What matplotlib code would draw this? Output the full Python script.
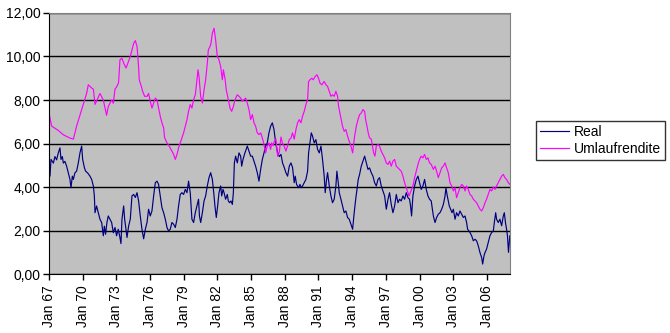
import numpy as np
import matplotlib.pyplot as plt

plt.rcParams['font.family'] = ['Liberation Sans', 'DejaVu Sans']

# readings taken off the chart (decimal year, percent)
real_year = [1967.00, 1967.09, 1967.18, 1967.39, 1967.53, 1967.68, 1967.83, 1967.98, 1968.07, 1968.19,
             1968.28, 1968.42, 1968.57, 1968.72, 1968.87, 1968.96, 1969.08, 1969.17, 1969.31, 1969.46,
             1969.61, 1969.76, 1969.91, 1970.00, 1970.15, 1970.26, 1970.44, 1970.65, 1970.80, 1970.95,
             1971.04, 1971.10, 1971.24, 1971.39, 1971.54, 1971.69, 1971.84, 1971.93, 1972.04, 1972.16,
             1972.28, 1972.43, 1972.58, 1972.73, 1972.88, 1973.02, 1973.17, 1973.32, 1973.41, 1973.50,
             1973.65, 1973.74, 1973.86, 1973.95, 1974.09, 1974.24, 1974.39, 1974.54, 1974.69, 1974.84,
             1974.98, 1975.13, 1975.28, 1975.43, 1975.58, 1975.73, 1975.87, 1976.02, 1976.17, 1976.32,
             1976.47, 1976.62, 1976.76, 1976.91, 1977.06, 1977.21, 1977.36, 1977.51, 1977.65, 1977.80,
             1977.95, 1978.10, 1978.25, 1978.40, 1978.54, 1978.69, 1978.84, 1978.99, 1979.14, 1979.29,
             1979.43, 1979.58, 1979.73, 1979.88, 1980.03, 1980.18, 1980.32, 1980.40, 1980.51, 1980.66,
             1980.81, 1980.95, 1981.10, 1981.25, 1981.40, 1981.55, 1981.70, 1981.78, 1981.90, 1982.02,
             1982.14, 1982.29, 1982.38, 1982.50, 1982.59, 1982.73, 1982.88, 1982.97, 1983.09, 1983.21,
             1983.33, 1983.42, 1983.51, 1983.62, 1983.77, 1983.92, 1984.07, 1984.16, 1984.28, 1984.45,
             1984.66, 1984.81, 1984.96, 1985.11, 1985.26, 1985.40, 1985.55, 1985.70, 1985.85, 1986.00,
             1986.15, 1986.29, 1986.44, 1986.59, 1986.74, 1986.89, 1987.04, 1987.13, 1987.24, 1987.36,
             1987.51, 1987.66, 1987.80, 1987.95, 1988.10, 1988.25, 1988.40, 1988.55, 1988.69, 1988.84,
             1988.93, 1989.05, 1989.23, 1989.35, 1989.46, 1989.58, 1989.73, 1989.88, 1990.03, 1990.12,
             1990.24, 1990.36, 1990.47, 1990.62, 1990.77, 1990.92, 1991.07, 1991.22, 1991.36, 1991.51,
             1991.60, 1991.72, 1991.81, 1991.96, 1992.11, 1992.25, 1992.40, 1992.55, 1992.64, 1992.76,
             1992.85, 1993.00, 1993.14, 1993.29, 1993.44, 1993.59, 1993.74, 1993.89, 1994.04, 1994.18,
             1994.33, 1994.43, 1994.54, 1994.66, 1994.81, 1994.96, 1995.11, 1995.26, 1995.41, 1995.55,
             1995.70, 1995.85, 1996.00, 1996.15, 1996.30, 1996.44, 1996.59, 1996.74, 1996.89, 1997.04,
             1997.19, 1997.33, 1997.48, 1997.63, 1997.78, 1997.93, 1998.08, 1998.22, 1998.37, 1998.52,
             1998.67, 1998.82, 1998.97, 1999.11, 1999.20, 1999.29, 1999.41, 1999.56, 1999.71, 1999.86,
             2000.00, 2000.15, 2000.30, 2000.45, 2000.60, 2000.75, 2000.89, 2001.04, 2001.23, 2001.38,
             2001.52, 2001.67, 2001.82, 2001.97, 2002.12, 2002.27, 2002.35, 2002.47, 2002.56, 2002.65,
             2002.77, 2002.89, 2003.01, 2003.16, 2003.30, 2003.45, 2003.60, 2003.75, 2003.90, 2004.05,
             2004.19, 2004.28, 2004.40, 2004.49, 2004.64, 2004.79, 2004.94, 2005.08, 2005.23, 2005.38,
             2005.53, 2005.62, 2005.74, 2005.83, 2005.97, 2006.12, 2006.27, 2006.42, 2006.57, 2006.66,
             2006.78, 2006.86, 2007.01, 2007.16, 2007.31, 2007.46, 2007.55, 2007.65, 2007.75, 2007.83,
             2007.92, 2007.98, 2008.04]
real_val = [4.96, 4.50, 5.27, 5.10, 5.40, 5.25, 5.57, 5.80, 5.27, 5.40,
            5.10, 5.18, 4.96, 4.65, 4.35, 3.97, 4.50, 4.35, 4.65, 4.73,
            5.10, 5.57, 5.88, 5.27, 4.90, 4.73, 4.65, 4.50, 4.35, 4.05,
            3.60, 2.82, 3.13, 2.82, 2.52, 2.37, 1.76, 2.20, 1.83, 2.37,
            2.67, 2.52, 2.37, 1.90, 2.14, 1.76, 2.06, 1.68, 1.40, 2.52,
            3.13, 2.52, 2.06, 1.68, 2.20, 2.52, 3.59, 3.66, 3.52, 3.74,
            3.36, 2.67, 2.06, 1.62, 2.06, 2.37, 2.98, 2.67, 2.90, 3.59,
            4.20, 4.27, 4.12, 3.59, 3.05, 2.82, 2.52, 2.14, 1.98, 2.06,
            2.37, 2.29, 2.14, 2.52, 3.13, 3.66, 3.74, 3.66, 3.89, 3.74,
            4.27, 3.74, 2.52, 2.37, 2.82, 3.13, 3.44, 2.67, 2.37, 2.82,
            3.36, 3.59, 4.05, 4.43, 4.66, 4.35, 3.59, 3.13, 2.60, 3.13,
            3.74, 4.05, 3.59, 3.89, 3.74, 3.44, 3.66, 3.36, 3.28, 3.36,
            3.20, 3.74, 5.11, 5.42, 5.11, 5.57, 5.42, 4.96, 5.27, 5.57,
            5.88, 5.65, 5.42, 5.42, 5.19, 4.96, 4.66, 4.27, 4.81, 5.27,
            5.57, 5.88, 6.03, 6.49, 6.80, 6.95, 6.64, 6.26, 5.88, 5.60,
            5.40, 5.50, 5.11, 4.90, 4.66, 4.50, 4.96, 5.11, 4.90, 4.20,
            4.50, 4.12, 3.97, 4.12, 3.97, 4.05, 4.20, 4.35, 4.73, 5.57,
            6.03, 6.49, 6.34, 6.03, 6.18, 5.73, 5.57, 5.88, 5.27, 4.50,
            3.74, 4.35, 4.66, 4.05, 3.59, 3.28, 3.44, 4.05, 4.73, 4.20,
            3.74, 3.44, 3.13, 2.82, 2.90, 2.60, 2.52, 2.29, 2.06, 2.82,
            3.51, 3.89, 4.35, 4.58, 4.96, 5.19, 5.42, 5.11, 4.81, 4.88,
            4.66, 4.50, 4.20, 4.05, 4.35, 4.43, 4.05, 3.82, 3.59, 2.98,
            3.44, 3.74, 3.20, 2.82, 3.13, 3.66, 3.28, 3.44, 3.36, 3.59,
            3.44, 3.74, 3.51, 3.44, 3.13, 2.67, 3.59, 4.05, 4.35, 4.50,
            4.20, 3.89, 4.05, 4.35, 3.89, 3.59, 3.44, 3.36, 2.67, 2.37,
            2.60, 2.75, 2.82, 2.98, 3.20, 3.59, 3.97, 3.59, 3.36, 3.13,
            2.98, 2.82, 2.98, 2.52, 2.82, 2.67, 2.90, 2.75, 2.60, 2.67,
            2.37, 2.06, 1.98, 1.91, 1.76, 1.53, 1.60, 1.53, 1.30, 0.99,
            0.76, 0.46, 0.84, 0.99, 1.15, 1.45, 1.76, 1.91, 1.98, 2.37,
            2.82, 2.52, 2.37, 2.52, 2.22, 2.67, 2.82, 2.37, 2.06, 1.76,
            1.00, 1.40, 1.76]

yield_year = [1967.00, 1967.24, 1967.83, 1968.28, 1968.87, 1969.17, 1969.46, 1969.76, 1970.06, 1970.35,
              1970.50, 1970.80, 1970.95, 1971.10, 1971.24, 1971.54, 1971.84, 1972.13, 1972.28, 1972.58,
              1972.73, 1972.88, 1973.02, 1973.20, 1973.32, 1973.50, 1973.65, 1973.86, 1974.03, 1974.24,
              1974.39, 1974.54, 1974.69, 1974.84, 1974.98, 1975.04, 1975.22, 1975.34, 1975.52, 1975.73,
              1975.87, 1976.02, 1976.17, 1976.32, 1976.47, 1976.62, 1976.76, 1976.91, 1977.06, 1977.21,
              1977.30, 1977.51, 1977.71, 1977.95, 1978.10, 1978.25, 1978.40, 1978.54, 1978.69, 1978.84,
              1978.99, 1979.14, 1979.29, 1979.43, 1979.58, 1979.73, 1979.88, 1980.03, 1980.18, 1980.27,
              1980.36, 1980.51, 1980.66, 1980.81, 1980.95, 1981.10, 1981.19, 1981.40, 1981.55, 1981.70,
              1981.84, 1981.99, 1982.14, 1982.29, 1982.44, 1982.53, 1982.67, 1982.79, 1982.97, 1983.12,
              1983.27, 1983.42, 1983.56, 1983.77, 1983.92, 1984.07, 1984.22, 1984.37, 1984.51, 1984.66,
              1984.81, 1984.96, 1985.11, 1985.26, 1985.40, 1985.55, 1985.70, 1985.85, 1986.00, 1986.15,
              1986.29, 1986.44, 1986.59, 1986.74, 1986.83, 1986.95, 1987.07, 1987.21, 1987.36, 1987.51,
              1987.66, 1987.80, 1987.95, 1988.10, 1988.25, 1988.40, 1988.55, 1988.69, 1988.84, 1988.99,
              1989.14, 1989.29, 1989.44, 1989.58, 1989.73, 1989.88, 1990.03, 1990.12, 1990.24, 1990.41,
              1990.53, 1990.71, 1990.86, 1991.01, 1991.13, 1991.30, 1991.51, 1991.66, 1991.81, 1991.96,
              1992.11, 1992.25, 1992.40, 1992.55, 1992.70, 1992.79, 1992.91, 1993.03, 1993.14, 1993.29,
              1993.44, 1993.59, 1993.74, 1993.89, 1994.04, 1994.22, 1994.37, 1994.52, 1994.66, 1994.81,
              1994.96, 1995.11, 1995.20, 1995.32, 1995.43, 1995.55, 1995.70, 1995.79, 1995.91, 1996.03,
              1996.15, 1996.30, 1996.44, 1996.59, 1996.74, 1996.89, 1997.04, 1997.19, 1997.33, 1997.48,
              1997.63, 1997.78, 1997.93, 1998.08, 1998.22, 1998.37, 1998.52, 1998.67, 1998.82, 1998.97,
              1999.06, 1999.17, 1999.29, 1999.41, 1999.56, 1999.71, 1999.86, 2000.00, 2000.15, 2000.30,
              2000.45, 2000.60, 2000.75, 2000.89, 2001.04, 2001.23, 2001.38, 2001.52, 2001.67, 2001.82,
              2001.97, 2002.12, 2002.27, 2002.41, 2002.56, 2002.71, 2002.86, 2003.01, 2003.16, 2003.30,
              2003.45, 2003.60, 2003.75, 2003.90, 2004.05, 2004.19, 2004.34, 2004.49, 2004.64, 2004.79,
              2004.94, 2005.08, 2005.23, 2005.38, 2005.53, 2005.68, 2005.83, 2005.97, 2006.12, 2006.27,
              2006.42, 2006.57, 2006.72, 2006.86, 2007.01, 2007.16, 2007.31, 2007.46, 2007.60, 2007.75,
              2007.90, 2008.05]
yield_val = [7.40, 6.80, 6.60, 6.40, 6.25, 6.20, 6.80, 7.30, 7.80, 8.30,
             8.70, 8.55, 8.50, 7.80, 7.95, 8.30, 8.00, 7.30, 7.70, 8.00,
             7.85, 8.50, 8.60, 8.80, 9.85, 9.92, 9.70, 9.47, 9.70, 10.00,
             10.30, 10.60, 10.73, 10.46, 9.54, 8.93, 8.63, 8.40, 8.17, 8.17,
             8.30, 7.94, 7.63, 7.86, 8.09, 8.00, 7.63, 7.25, 6.95, 6.72,
             6.26, 6.03, 5.88, 5.65, 5.50, 5.27, 5.50, 5.80, 6.03, 6.26,
             6.49, 6.80, 7.10, 7.48, 7.79, 7.63, 8.02, 8.24, 8.93, 9.39,
             9.08, 8.17, 7.86, 8.47, 8.93, 9.69, 10.30, 10.53, 11.07, 11.30,
             10.76, 10.00, 9.85, 9.54, 8.93, 9.39, 9.00, 8.47, 8.00, 7.63,
             7.48, 7.71, 8.00, 8.24, 8.17, 8.09, 7.94, 8.02, 8.09, 7.86,
             7.56, 7.10, 7.33, 6.95, 6.80, 6.49, 6.41, 6.49, 6.26, 5.95,
             5.57, 5.88, 6.03, 5.73, 6.03, 5.90, 6.10, 6.20, 5.42, 5.60,
             6.30, 6.00, 5.88, 5.65, 5.90, 6.18, 6.25, 6.49, 6.20, 6.64,
             6.95, 7.10, 6.95, 7.25, 7.48, 7.79, 8.02, 8.85, 8.93, 9.00,
             8.93, 9.08, 9.16, 9.00, 8.78, 8.70, 8.85, 8.70, 8.63, 8.40,
             8.17, 8.24, 8.17, 8.40, 8.17, 7.71, 7.40, 7.10, 6.80, 6.56,
             6.64, 6.34, 6.10, 5.88, 5.57, 6.34, 6.80, 7.10, 7.33, 7.40,
             7.56, 7.48, 7.10, 6.80, 6.49, 6.26, 6.20, 5.95, 5.57, 5.42,
             5.88, 5.95, 5.88, 5.65, 5.50, 5.34, 5.11, 5.04, 5.19, 4.96,
             5.19, 5.27, 4.96, 4.88, 4.81, 4.73, 4.50, 4.20, 3.97, 3.74,
             3.59, 3.74, 3.89, 4.05, 4.43, 4.73, 5.04, 5.27, 5.42, 5.34,
             5.50, 5.27, 5.34, 5.11, 5.04, 4.81, 4.96, 4.73, 4.43, 4.66,
             4.88, 4.96, 5.11, 4.88, 4.66, 4.20, 4.05, 3.82, 3.97, 3.51,
             3.74, 3.97, 4.12, 4.05, 3.82, 4.05, 3.89, 3.66, 3.59, 3.44,
             3.36, 3.28, 3.13, 2.98, 2.90, 3.05, 3.28, 3.44, 3.66, 3.89,
             3.82, 4.00, 3.89, 4.05, 4.20, 4.35, 4.50, 4.58, 4.43, 4.35,
             4.20, 4.12]

tick_years = list(range(1967, 2007, 3))
tick_labels = ['Jan %02d' % (y % 100) for y in tick_years]
y_ticks = [0, 2, 4, 6, 8, 10, 12]
y_labels = [('%.2f' % v).replace('.', ',') for v in y_ticks]

fig = plt.figure(figsize=(6.7, 3.33), dpi=100)
ax = fig.add_axes([0.0731, 0.177, 0.688, 0.784])
ax.set_facecolor('#C0C0C0')

ax.plot(real_year, real_val, color='#000080', lw=0.85, label='Real')
ax.plot(yield_year, yield_val, color='#FF00FF', lw=0.85, label='Umlaufrendite')

ax.set_xlim(1967, 2008.05)
ax.set_ylim(0, 12)
ax.set_xticks(tick_years)
ax.set_xticklabels(tick_labels, rotation=90, fontsize=10)
ax.set_yticks(y_ticks)
ax.set_yticklabels(y_labels, fontsize=10)
ax.tick_params(axis='both', direction='out', length=4, width=1, color='black', pad=2)
ax.tick_params(axis='x', pad=4)

ax.set_axisbelow(True)
ax.yaxis.grid(True, color='black', lw=1)
for side in ['top', 'right']:
    ax.spines[side].set_color('#808080')
for side in ['left', 'bottom']:
    ax.spines[side].set_color('black')

leg = fig.legend(loc='upper left', bbox_to_anchor=(536 / 670, 1 - 121 / 333), fontsize=10,
                 frameon=True, fancybox=False, edgecolor='black', handlelength=2.1,
                 handletextpad=0.35, borderpad=0.3, labelspacing=0.2, borderaxespad=0)
leg.get_frame().set_linewidth(1)

fig.savefig('out.png', dpi=100)
